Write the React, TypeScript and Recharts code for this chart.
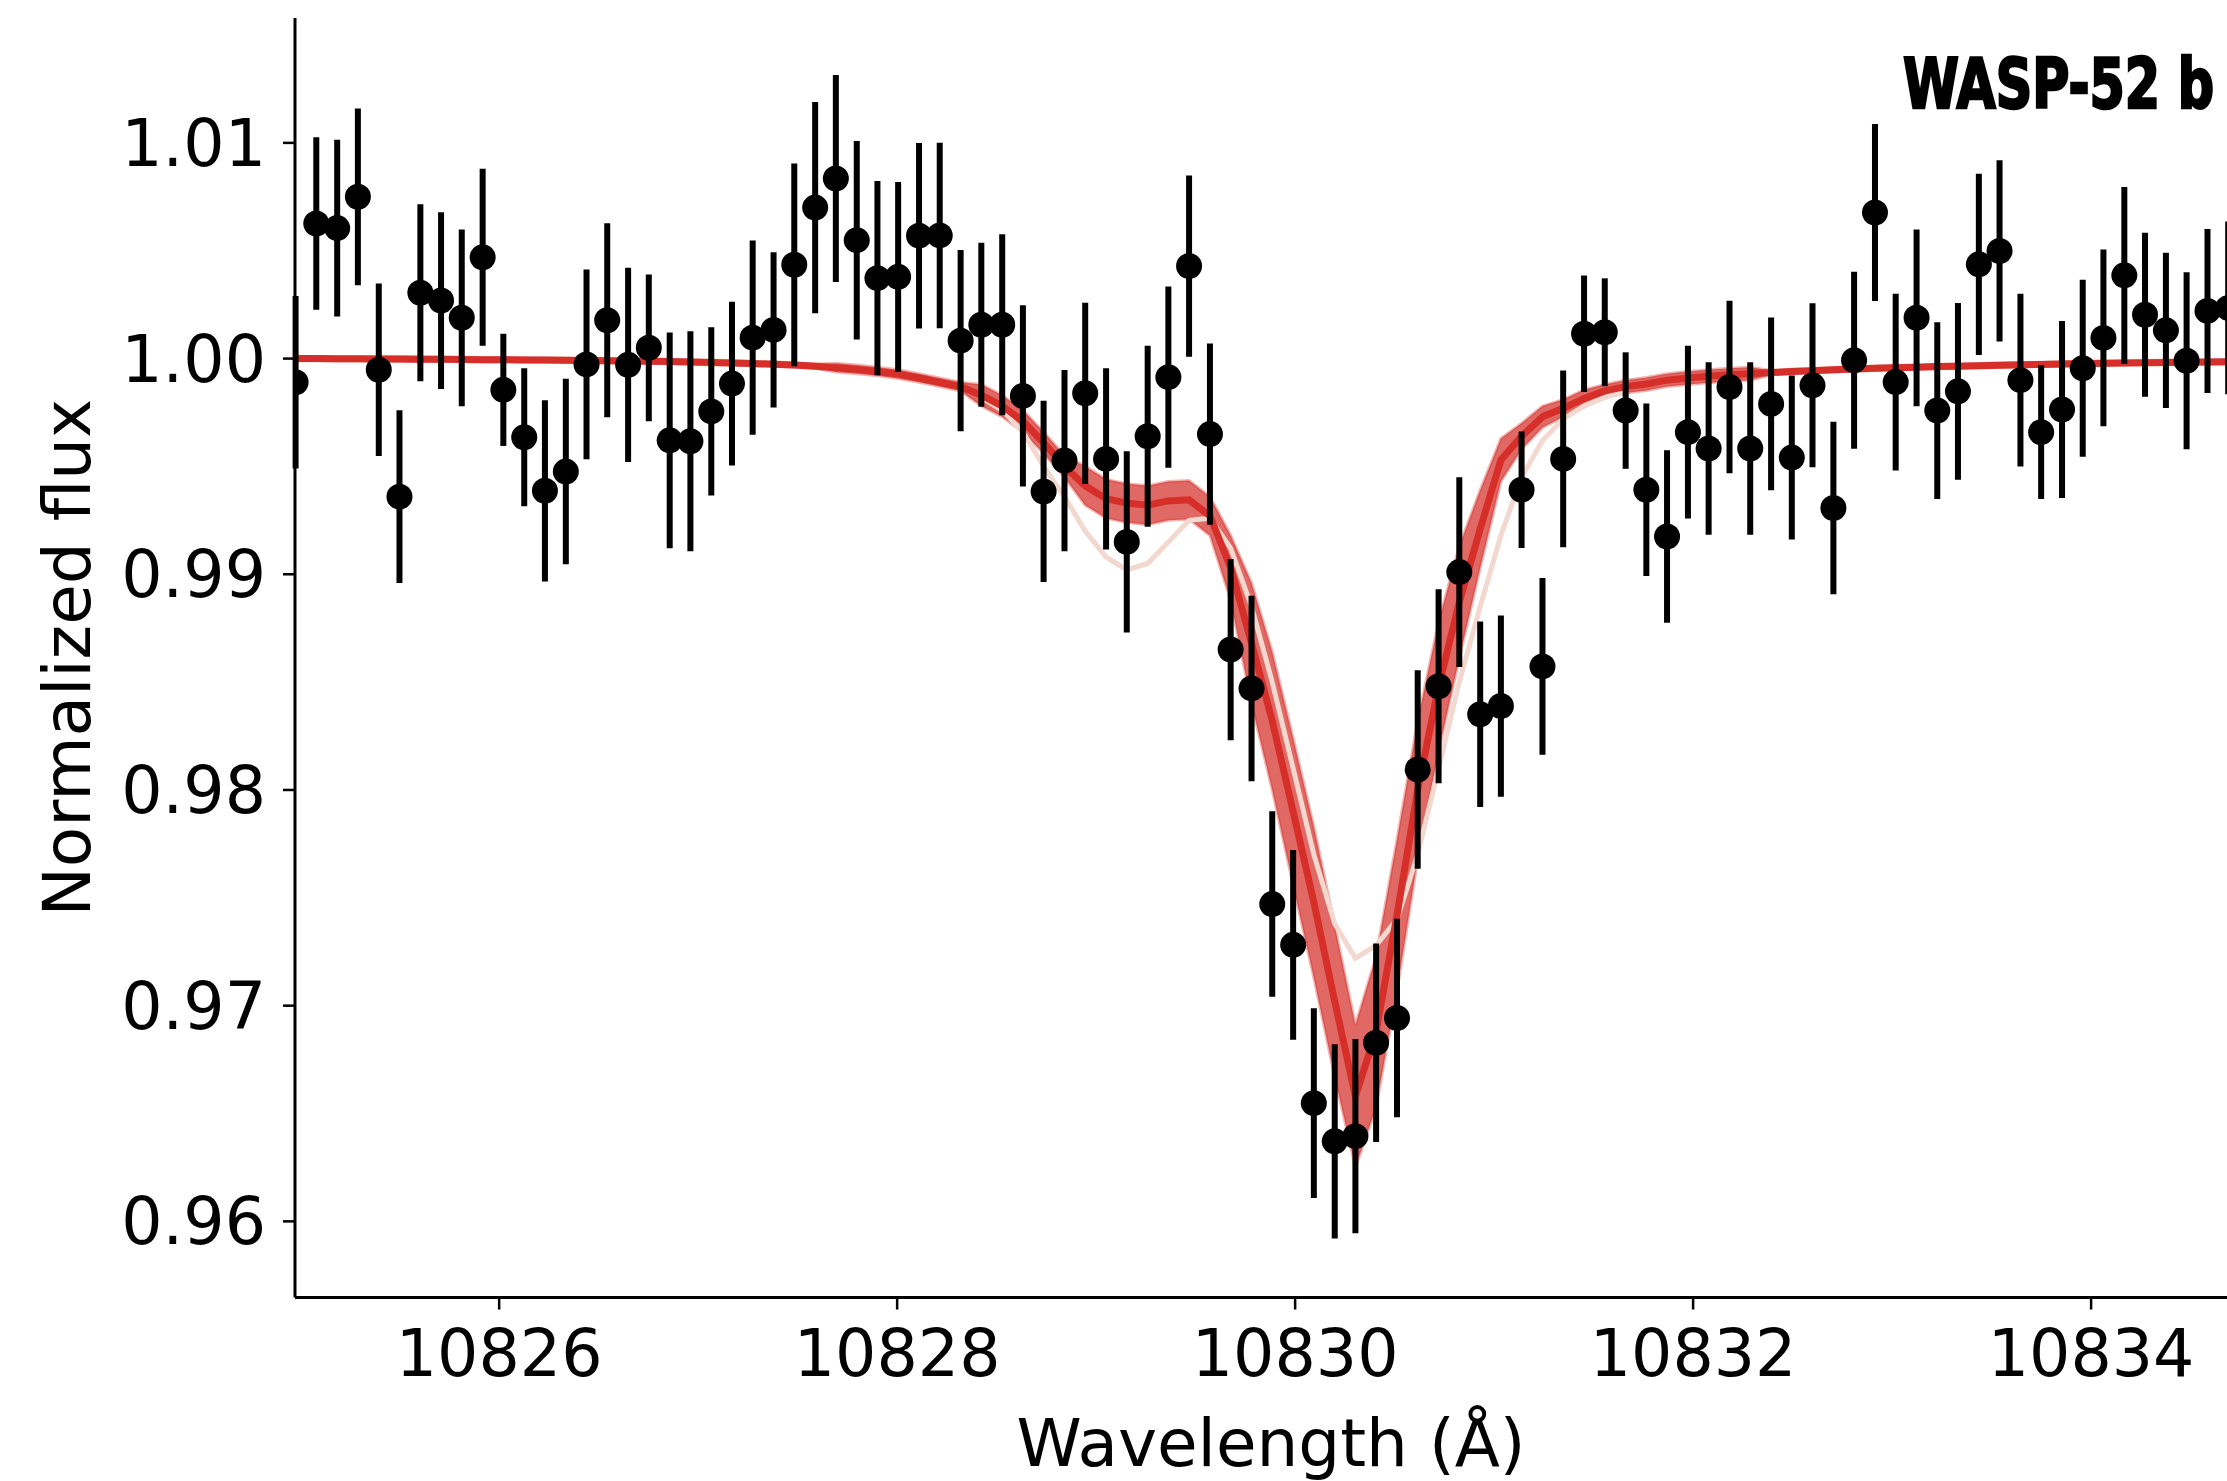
import React from "react";
import { ComposedChart, Scatter, Line, Area, XAxis, YAxis, ErrorBar, Customized } from "recharts";

// wavelength grid of the spectrum (Å)
const wavelength = [
  10824.977, 10825.081, 10825.186, 10825.29, 10825.395, 10825.499, 10825.604, 10825.708, 10825.812, 10825.917,
  10826.021, 10826.126, 10826.23, 10826.335, 10826.439, 10826.543, 10826.648, 10826.752, 10826.857, 10826.961,
  10827.066, 10827.17, 10827.274, 10827.379, 10827.483, 10827.588, 10827.692, 10827.797, 10827.901, 10828.005,
  10828.11, 10828.214, 10828.319, 10828.423, 10828.528, 10828.632, 10828.736, 10828.841, 10828.945, 10829.05,
  10829.154, 10829.259, 10829.363, 10829.467, 10829.572, 10829.676, 10829.781, 10829.885, 10829.99, 10830.094,
  10830.199, 10830.303, 10830.407, 10830.512, 10830.616, 10830.721, 10830.825, 10830.93, 10831.034, 10831.138,
  10831.243, 10831.347, 10831.452, 10831.556, 10831.661, 10831.765, 10831.869, 10831.974, 10832.078, 10832.183,
  10832.287, 10832.392, 10832.496, 10832.6, 10832.705, 10832.809, 10832.914, 10833.018, 10833.123, 10833.227,
  10833.331, 10833.436, 10833.54, 10833.645, 10833.749, 10833.854, 10833.958, 10834.062, 10834.167, 10834.271,
  10834.376, 10834.48, 10834.585, 10834.689,
];

// observed normalized flux
const flux = [
  0.9989, 1.00626, 1.00605, 1.0075, 0.99948, 0.9936, 1.00305, 1.00269, 1.00189, 1.0047,
  0.99855, 0.99635, 0.99387, 0.99476, 0.99973, 1.00178, 0.99971, 1.0005, 0.99621, 0.99617,
  0.99755, 0.99884, 1.00097, 1.00133, 1.00435, 1.007, 1.00835, 1.00549, 1.00373, 1.00379,
  1.0057, 1.00571, 1.00083, 1.00157, 1.00157, 0.99827, 0.99384, 0.99527, 0.99839, 0.99535,
  0.9915, 0.9964, 0.99914, 1.00429, 0.9965, 0.98651, 0.98471, 0.97471, 0.97282, 0.96548,
  0.96371, 0.96395, 0.96828, 0.96943, 0.98095, 0.98481, 0.9901, 0.98351, 0.98389, 0.99392,
  0.98573, 0.99535, 1.00115, 1.00122, 0.99759, 0.99392, 0.99175, 0.99659, 0.99583, 0.99868,
  0.99583, 0.9979, 0.99541, 0.99876, 0.99307, 0.99992, 1.00677, 0.99891, 1.00189, 0.99759,
  0.99848, 1.00437, 1.00499, 0.999, 0.99659, 0.99764, 0.99955, 1.00096, 1.00386, 1.00203,
  1.00131, 0.9999, 1.00221, 1.00235,
];

// 1-sigma errors
const fluxErr = [
  0.004, 0.004, 0.0041, 0.0041, 0.004, 0.004, 0.0041, 0.0041, 0.0041, 0.0041,
  0.0026, 0.0032, 0.0042, 0.0043, 0.0044, 0.0045, 0.0045, 0.0034, 0.005, 0.0051,
  0.0039, 0.0038, 0.0045, 0.0036, 0.0047, 0.0049, 0.0048, 0.0046, 0.0045, 0.0044,
  0.0043, 0.0043, 0.0042, 0.0038, 0.0042, 0.0042, 0.0042, 0.0042, 0.0042, 0.0042,
  0.0042, 0.0042, 0.0042, 0.0042, 0.0042, 0.0042, 0.0043, 0.0043, 0.0044, 0.0044,
  0.0045, 0.0045, 0.0046, 0.0046, 0.0046, 0.0045, 0.0044, 0.0043, 0.0042, 0.0027,
  0.0041, 0.0041, 0.0027, 0.0025, 0.0027, 0.004, 0.004, 0.004, 0.004, 0.004,
  0.004, 0.004, 0.0038, 0.0038, 0.004, 0.0041, 0.0041, 0.0041, 0.0041, 0.0041,
  0.0041, 0.0042, 0.0042, 0.004, 0.0031, 0.0041, 0.0041, 0.0041, 0.0041, 0.0038,
  0.0036, 0.0041, 0.0038, 0.004,
];

// model samples: central curve and spread of the dense bundle
const modelMid = [
  1.0, 1.0, 0.99999, 0.99999, 0.99998, 0.99998, 0.99997, 0.99997, 0.99996, 0.99995,
  0.99995, 0.99994, 0.99993, 0.99992, 0.99991, 0.9999, 0.99989, 0.99988, 0.99986, 0.99984,
  0.99982, 0.9998, 0.99977, 0.99974, 0.9997, 0.99965, 0.99958, 0.9995, 0.9994, 0.99928,
  0.9991, 0.9989, 0.9987, 0.9983, 0.9978, 0.9971, 0.9961, 0.995, 0.9941, 0.9935,
  0.9933, 0.9932, 0.9934, 0.99345, 0.9927, 0.9903, 0.9868, 0.9832, 0.979, 0.9748,
  0.9702, 0.9658, 0.9688, 0.9742, 0.98, 0.9848, 0.9887, 0.9921, 0.9953, 0.9964,
  0.9973, 0.9977, 0.99815, 0.9985, 0.9987, 0.99882, 0.999, 0.9991, 0.99918, 0.99925,
  0.9993, 0.99935, 0.9994, 0.99944, 0.99948, 0.99952, 0.99955, 0.99958, 0.9996, 0.99963,
  0.99965, 0.99967, 0.99969, 0.99971, 0.99973, 0.99975, 0.99977, 0.99978, 0.9998, 0.99981,
  0.99982, 0.99983, 0.99984, 0.99985,
];

const modelSpread = [
  0.0001, 0.0001, 0.0001, 0.0001, 0.0001, 0.0001, 0.0001, 0.0001, 0.0001, 0.0001,
  0.0001, 0.0001, 0.0001, 0.0001, 0.0001, 0.0001, 0.0001, 0.0001, 0.0001, 0.0001,
  0.0001, 0.0001, 0.0001, 0.0001, 0.0001, 0.0001, 0.0002, 0.0002, 0.0002, 0.0002,
  0.0002, 0.0002, 0.0002, 0.0005, 0.0005, 0.0005, 0.0005, 0.0005, 0.0009, 0.0009,
  0.0009, 0.0009, 0.0009, 0.0009, 0.0009, 0.0015, 0.0028, 0.0032, 0.0034, 0.0035,
  0.0035, 0.0033, 0.0035, 0.0035, 0.0032, 0.003, 0.0026, 0.0018, 0.001, 0.0006,
  0.0005, 0.0004, 0.0004, 0.0003, 0.0003, 0.0003, 0.0003, 0.0003, 0.0003, 0.0003,
  0.0003, 0.0001, 0.0001, 0.0001, 0.0001, 0.0001, 0.0001, 0.0001, 0.0001, 0.0001,
  0.0001, 0.0001, 0.0001, 0.0001, 0.0001, 0.0001, 0.0001, 0.0001, 0.0001, 0.0001,
  0.0001, 0.0001, 0.0001, 0.0001,
];

// faint outlier sample (deeper shoulder, shallower core)
const modelPale = [
  null, null, null, null, null, null, null, null, null, null,
  null, null, null, null, null, null, null, null, null, null,
  null, null, null, null, null, null, null, null, null, null,
  null, null, null, 0.9982, 0.9976, 0.9966, 0.995, 0.9936, 0.992, 0.9908,
  0.9902, 0.9905, 0.9915, 0.9925, 0.9926, 0.9912, 0.9885, 0.985, 0.981, 0.977,
  0.9738, 0.9722, 0.9728, 0.974, 0.977, 0.981, 0.985, 0.9885, 0.9918, 0.9945,
  0.9962, 0.9972, 0.9978, 0.9982, 0.9985, null, null, null, null, null,
  null, null, null, null, null, null, null, null, null, null,
  null, null, null, null, null, null, null, null, null, null,
  null, null, null, null,
];

const xTicks = [10826, 10828, 10830, 10832, 10834];
const yTicks = [0.96, 0.97, 0.98, 0.99, 1.0, 1.01];
const xDomain = [10824.974, 10834.683];
const yDomain = [0.95647, 1.01579];

const RED = "#d62f29";
const font = "'DejaVu Sans', sans-serif";

const rows = wavelength.map((wl, i) => ({
  wl,
  flux: flux[i],
  err: fluxErr[i],
  mid: modelMid[i],
  band: [modelMid[i] - modelSpread[i], modelMid[i] + modelSpread[i]],
  pale: modelPale[i],
}));

const Dot = (p: any) => <circle cx={p.cx} cy={p.cy} r={13} fill="#000" />;

const Texts = () => (
  <g>
    <text transform="translate(90,657.7) rotate(-90)" textAnchor="middle" fontFamily={font} fontSize={66} fill="#000">
      Normalized flux
    </text>
    <text x={1271} y={1466} textAnchor="middle" fontFamily={font} fontSize={66} fill="#000">
      Wavelength (Å)
    </text>
    {/* condensed bold title, squeezed horizontally to the reference width */}
    <text
      transform="translate(2214,108) scale(0.817,1)"
      textAnchor="end"
      fontFamily="'DejaVu Sans Condensed', 'Liberation Sans Narrow', sans-serif"
      fontWeight={700}
      fontSize={69}
      fill="#000"
      stroke="#000"
      strokeWidth={2.5}
    >
      WASP-52 b
    </text>
  </g>
);

export default function App() {
  return (
    <div style={{ position: "absolute", left: 0, top: 0, width: 2227, height: 1481, background: "#fff" }}>
      <ComposedChart width={2227} height={1481} data={rows} margin={{ top: 18, right: 0, bottom: 63.5, left: 0 }}>
        <XAxis
          xAxisId="main"
          type="number"
          dataKey="wl"
          domain={xDomain}
          ticks={xTicks}
          allowDataOverflow
          height={120}
          tickSize={12}
          tickMargin={20}
          axisLine={{ stroke: "#000", strokeWidth: 3 }}
          tickLine={{ stroke: "#000", strokeWidth: 2.5 }}
          tick={{ fill: "#000", fontSize: 65, fontFamily: font }}
        />
        <XAxis
          xAxisId="top"
          orientation="top"
          type="number"
          dataKey="wl"
          domain={xDomain}
          allowDataOverflow
          height={0}
          tick={false}
          tickLine={false}
          axisLine={{ stroke: "#000", strokeWidth: 3 }}
        />
        <YAxis
          type="number"
          domain={yDomain}
          ticks={yTicks}
          allowDataOverflow
          width={295}
          tickSize={12}
          tickMargin={17}
          tickFormatter={(v: number) => v.toFixed(2)}
          axisLine={{ stroke: "#000", strokeWidth: 3 }}
          tickLine={{ stroke: "#000", strokeWidth: 2.5 }}
          tick={{ fill: "#000", fontSize: 65, fontFamily: font }}
        />

        {/* faint outlier model draw, sits behind the dense bundle */}
        <Line
          xAxisId="main"
          type="linear"
          dataKey="pale"
          stroke="#f2d8ce"
          strokeWidth={5}
          dot={false}
          isAnimationActive={false}
        />
        <Area
          xAxisId="main"
          type="linear"
          dataKey="band"
          stroke={RED}
          strokeOpacity={0.35}
          strokeWidth={3}
          fill={RED}
          fillOpacity={0.72}
          isAnimationActive={false}
        />
        <Line
          xAxisId="main"
          type="linear"
          dataKey="mid"
          stroke={RED}
          strokeWidth={7}
          dot={false}
          isAnimationActive={false}
        />

        <Scatter xAxisId="main" dataKey="flux" fill="#000" shape={Dot} isAnimationActive={false}>
          <ErrorBar dataKey="err" direction="y" width={0} stroke="#000" strokeWidth={6} />
        </Scatter>

        <Customized component={Texts} />
      </ComposedChart>
    </div>
  );
}
